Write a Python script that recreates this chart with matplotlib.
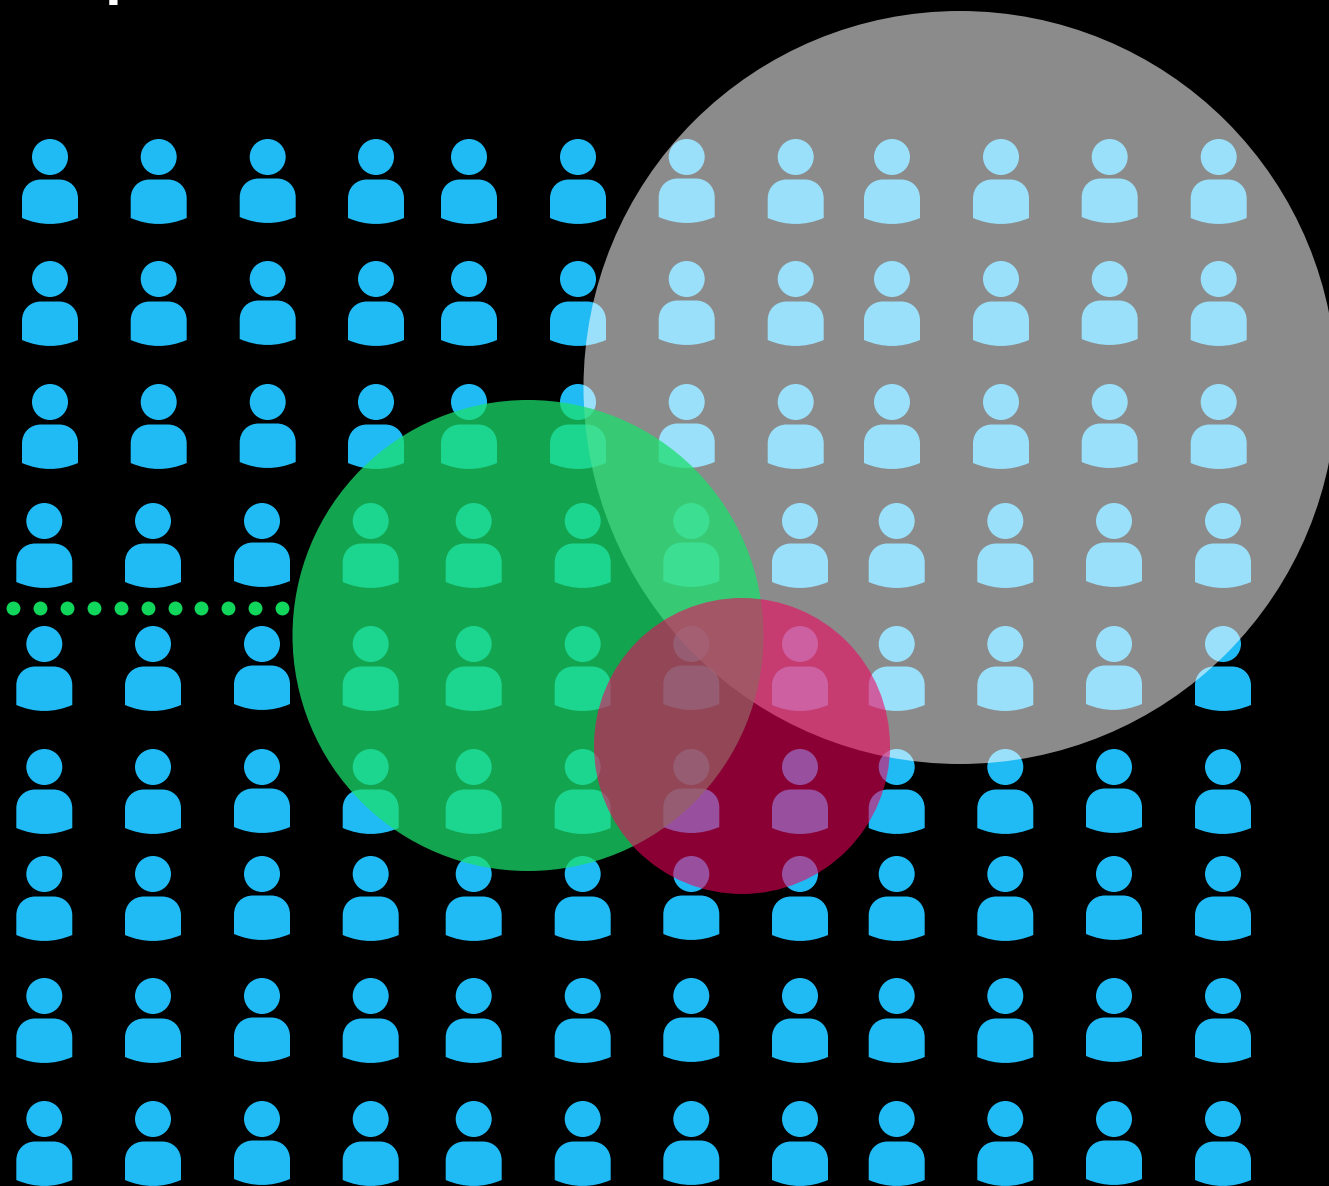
import matplotlib
matplotlib.use("Agg")
import matplotlib.pyplot as plt
from matplotlib.patches import Circle, PathPatch
from matplotlib.path import Path

# pixel positions
upper_rows = [157, 279, 402]
upper_cols = [50, 158.7, 267.7, 376, 469, 578, 686.7, 795.7, 892, 1001, 1109.7, 1218.7]
lower_rows = [521, 644, 767, 874, 996, 1119]
lower_cols = [44.3, 153, 262, 370.7, 473.7, 582.7, 691.3, 800, 896.7, 1005.3, 1114, 1223]
# a few columns have the body one pixel higher
upper_shift = [0, 0, -1, 0, 0, 0, -1, 0, 0, 0, -1, 0]
lower_shift = [0, 0, -1, 0, 0, 0, -1, 0, 0, 0, -1, 0]

dots_x = [13, 39.5, 66.5, 93.5, 120.5, 147.5, 174.5, 201, 228, 255, 282]
dots_y = 608

circle_x = [960, 528, 742]
circle_y = [387.5, 635.5, 746]
circle_r = [376.5, 235.5, 148]
circle_colors = ["#ffffff", "#1bdf6c", "#f4005c"]
circle_alpha = [0.55, 0.74, 0.57]

blue = "#20bbf5"
dot_green = "#10d65c"


def body_path(x, y):
    w, c, k = 28, 19, 8
    top = y + 22.5
    side = y + 61
    verts = [(x - w, side), (x - w, top + c), (x - w, top + k), (x - w + k, top), (x - w + c, top),
             (x + w - c, top), (x + w - k, top), (x + w, top + k), (x + w, top + c), (x + w, side),
             (x, y + 73), (x - w, side), (x - w, side)]
    codes = [Path.MOVETO, Path.LINETO, Path.CURVE4, Path.CURVE4, Path.CURVE4,
             Path.LINETO, Path.CURVE4, Path.CURVE4, Path.CURVE4, Path.LINETO,
             Path.CURVE3, Path.CURVE3, Path.CLOSEPOLY]
    return Path(verts, codes)


def draw_person(ax, x, y, shift):
    ax.add_patch(Circle((x, y), 18, fc=blue, ec="none", zorder=1))
    ax.add_patch(PathPatch(body_path(x, y + shift), fc=blue, ec="none", zorder=1))


fig = plt.figure(figsize=(13.29, 11.86), dpi=100, facecolor="black")
ax = fig.add_axes([0, 0, 1, 1])
ax.set_xlim(0, 1329)
ax.set_ylim(1186, 0)
ax.axis("off")

for y in upper_rows:
    for x, s in zip(upper_cols, upper_shift):
        draw_person(ax, x, y, s)
for y in lower_rows:
    for x, s in zip(lower_cols, lower_shift):
        draw_person(ax, x, y, s)

ax.scatter(dots_x, [dots_y] * len(dots_x), s=100, color=dot_green, linewidths=0, zorder=1)

for i in range(3):
    ax.add_patch(Circle((circle_x[i], circle_y[i]), circle_r[i], fc=circle_colors[i],
                        ec="none", alpha=circle_alpha[i], zorder=2 + i))

# bottom of a title that is cut off by the top edge
ax.text(124, 5, "p", color="white", fontsize=44, fontweight="bold", family="Liberation Sans",
        ha="center", va="bottom", zorder=6)

fig.savefig("out.png", dpi=100, facecolor="black")
